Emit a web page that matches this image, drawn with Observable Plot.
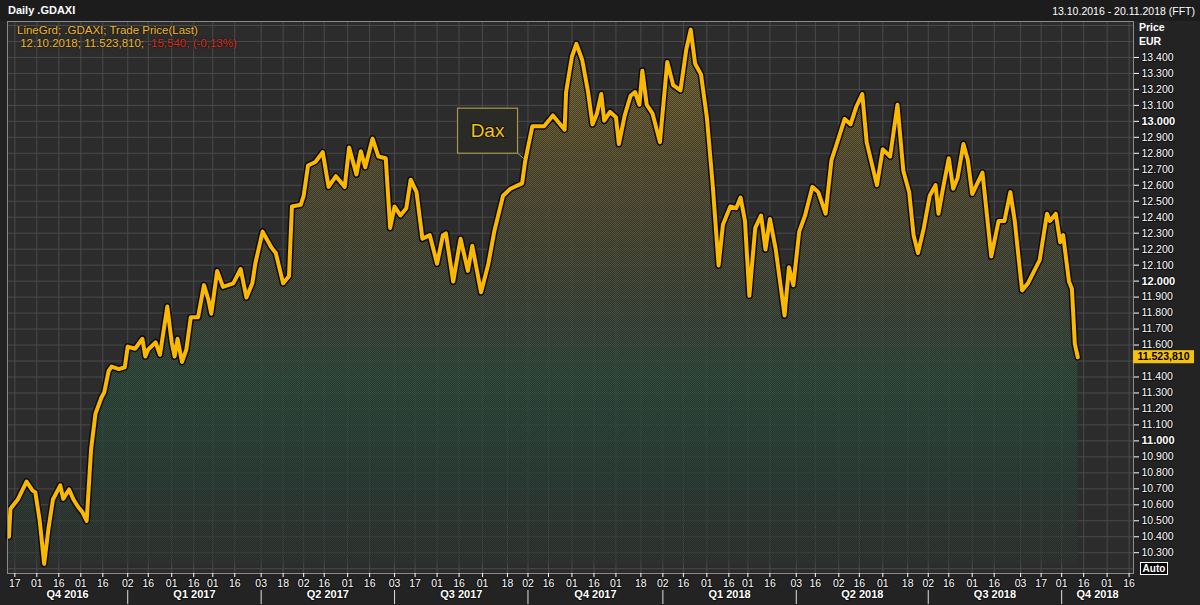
<!DOCTYPE html>
<html><head><meta charset="utf-8">
<script src="https://cdn.jsdelivr.net/npm/d3@7"></script>
<script src="https://cdn.jsdelivr.net/npm/@observablehq/plot@0.6"></script>
<style>
html,body{margin:0;padding:0;}
body{background:#232323;width:1200px;height:605px;overflow:hidden;position:relative;font-family:"Liberation Sans",Arial,sans-serif;color:#fff;}
#header{position:absolute;left:0;top:0;width:1200px;height:21px;background:#1c1c1c;}
#title{position:absolute;left:8px;top:4px;font-size:11px;font-weight:bold;}
#range{position:absolute;right:5px;top:5px;font-size:10.5px;}
#chart{position:absolute;left:0;top:21px;}
#legend{position:absolute;left:17px;top:24px;font-size:11.5px;line-height:13px;color:#f0b828;text-shadow:0 0 2px #000;}
#legend .neg{color:#dd2a1a;}
.unit{position:absolute;left:1139px;font-size:10.5px;font-weight:bold;}
#auto{position:absolute;left:1140px;top:562px;width:26px;height:11px;border:1px solid #fff;background:#000;font-size:10px;font-weight:bold;line-height:11px;text-align:center;}
#chart svg text{paint-order:stroke;stroke:#111;stroke-width:2px;stroke-linejoin:round;}
#chart svg text.nohalo{stroke:none;}
</style></head><body>
<div id="header"><span id="title">Daily .GDAXI</span><span id="range">13.10.2016 - 20.11.2018 (FFT)</span></div>
<div id="chart"></div>
<div id="legend">LineGrd; .GDAXI; Trade Price(Last)<br>&nbsp;12.10.2018; 11.523,810; <span class="neg">-15,540; (-0,13%)</span></div>
<div class="unit" style="top:21px">Price</div>
<div class="unit" style="top:35px">EUR</div>
<div id="auto">Auto</div>
<script>
const dates = [
"2016-10-13","2016-10-14","2016-10-19","2016-10-25","2016-10-29","2016-10-31","2016-11-03","2016-11-06","2016-11-09","2016-11-12",
"2016-11-17","2016-11-19","2016-11-23","2016-11-26","2016-11-29","2016-12-02","2016-12-05","2016-12-08","2016-12-11","2016-12-15",
"2016-12-17","2016-12-20","2016-12-22","2016-12-27","2016-12-31","2017-01-02","2017-01-07","2017-01-12","2017-01-14","2017-01-16",
"2017-01-21","2017-01-24","2017-01-29","2017-02-01","2017-02-03","2017-02-05","2017-02-08","2017-02-11","2017-02-14","2017-02-19",
"2017-02-23","2017-02-26","2017-02-28","2017-03-04","2017-03-08","2017-03-15","2017-03-20","2017-03-24","2017-03-28","2017-03-30",
"2017-04-04","2017-04-10","2017-04-13","2017-04-18","2017-04-22","2017-04-24","2017-04-30","2017-05-02","2017-05-05","2017-05-10",
"2017-05-15","2017-05-19","2017-05-24","2017-05-30","2017-06-02","2017-06-07","2017-06-10","2017-06-13","2017-06-18","2017-06-22",
"2017-06-27","2017-06-30","2017-07-03","2017-07-07","2017-07-11","2017-07-14","2017-07-18","2017-07-22","2017-07-27","2017-08-01",
"2017-08-05","2017-08-07","2017-08-12","2017-08-17","2017-08-22","2017-08-25","2017-08-31","2017-09-05","2017-09-09","2017-09-15",
"2017-09-20","2017-09-28","2017-09-30","2017-10-05","2017-10-13","2017-10-19","2017-10-27","2017-10-28","2017-11-01","2017-11-04",
"2017-11-08","2017-11-12","2017-11-15","2017-11-18","2017-11-21","2017-11-23","2017-11-27","2017-12-01","2017-12-03","2017-12-07",
"2017-12-11","2017-12-14","2017-12-17","2017-12-19","2017-12-22","2017-12-26","2017-12-31","2018-01-05","2018-01-09","2018-01-14",
"2018-01-18","2018-01-21","2018-01-24","2018-01-28","2018-02-01","2018-02-05","2018-02-09","2018-02-12","2018-02-17","2018-02-21",
"2018-02-24","2018-02-27","2018-03-02","2018-03-06","2018-03-10","2018-03-13","2018-03-16","2018-03-20","2018-03-26","2018-03-29",
"2018-04-01","2018-04-05","2018-04-09","2018-04-14","2018-04-18","2018-04-23","2018-04-27","2018-05-01","2018-05-06","2018-05-10",
"2018-05-14","2018-05-18","2018-05-21","2018-05-28","2018-06-01","2018-06-06","2018-06-11","2018-06-15","2018-06-19","2018-06-22",
"2018-06-25","2018-06-29","2018-07-03","2018-07-07","2018-07-09","2018-07-12","2018-07-16","2018-07-19","2018-07-22","2018-07-26",
"2018-07-29","2018-08-01","2018-08-08","2018-08-14","2018-08-19","2018-08-23","2018-08-27","2018-08-30","2018-09-04","2018-09-08",
"2018-09-16","2018-09-21","2018-09-23","2018-09-27","2018-09-30","2018-10-02","2018-10-06","2018-10-08","2018-10-10","2018-10-12"
];
const values = [
10400,10575,10633,10745,10690,10678,10499,10230,10454,10633,
10722,10637,10696,10633,10589,10555,10499,10946,11170,11270,
11304,11438,11465,11449,11461,11590,11577,11639,11528,11572,
11617,11539,11841,11617,11528,11639,11494,11572,11774,11774,
11975,11885,11796,12064,11964,11986,12076,11897,11986,12109,
12310,12210,12176,11986,12031,12467,12478,12534,12724,12746,
12807,12590,12657,12590,12836,12668,12813,12713,12892,12780,
12769,12333,12467,12411,12456,12635,12557,12265,12288,12109,
12288,12299,11997,12265,12064,12221,11930,12109,12310,12534,
12578,12612,12746,12970,12970,13037,12948,13183,13406,13485,
13384,13183,12981,13048,13171,13004,13059,13026,12858,13037,
13160,13183,13104,13317,13104,13048,12870,13372,13227,13194,
13451,13574,13361,13294,13026,12601,12098,12355,12467,12456,
12523,12377,11908,12333,12411,12198,12389,12198,11785,12087,
11975,12310,12411,12590,12557,12422,12758,12870,13015,12981,
13093,13171,12870,12601,12825,12780,13104,12691,12557,12288,
12176,12333,12534,12601,12422,12578,12769,12578,12646,12858,
12758,12545,12679,12154,12377,12377,12557,12377,11942,11986,
12131,12422,12377,12422,12243,12288,11997,11952,11606,11523.81
];
const xTicks = ["2016-10-17","2016-11-01","2016-11-16","2016-12-01","2016-12-16","2017-01-02","2017-01-16","2017-02-01","2017-02-16","2017-03-01","2017-03-16","2017-04-03","2017-04-18","2017-05-02","2017-05-16","2017-06-01","2017-06-16","2017-07-03","2017-07-17","2017-08-01","2017-08-16","2017-09-01","2017-09-18","2017-10-02","2017-10-16","2017-11-01","2017-11-16","2017-12-01","2017-12-18","2018-01-02","2018-01-16","2018-02-01","2018-02-16","2018-03-01","2018-03-16","2018-04-03","2018-04-16","2018-05-02","2018-05-16","2018-06-01","2018-06-18","2018-07-02","2018-07-16","2018-08-01","2018-08-16","2018-09-03","2018-09-17","2018-10-01","2018-10-16","2018-11-01","2018-11-16"];
const quarterLabels = ["Q4 2016","Q1 2017","Q2 2017","Q3 2017","Q4 2017","Q1 2018","Q2 2018","Q3 2018","Q4 2018"];
const quarterStarts = ["2017-01-02","2017-04-03","2017-07-03","2017-10-02","2018-01-02","2018-04-03","2018-07-02","2018-10-01"];
const yTicks = [10300,10400,10500,10600,10700,10800,10900,11000,11100,11200,11300,11400,11500,11600,11700,11800,11900,12000,12100,12200,12300,12400,12500,12600,12700,12800,12900,13000,13100,13200,13300,13400];
const yTicksBold = [11000,12000,13000];
const yGrid = [10200,10300,10400,10500,10600,10700,10800,10900,11000,11100,11200,11300,11400,11500,11600,11700,11800,11900,12000,12100,12200,12300,12400,12500,12600,12700,12800,12900,13000,13100,13200,13300,13400,13500,13600];
const xDomainDates = ["2016-10-12","2018-11-19"];
const yDomain = [10170, 13625];
const annotation = {label: "Dax", date: "2017-09-30", value: 12760};

const parse = d3.utcParse("%Y-%m-%d");
const de = d3.formatLocale({decimal: ",", thousands: ".", grouping: [3], currency: ["", " €"]});
const fmtTick = de.format(",");
const fmtLast = de.format(",.3f");
const data = dates.map((d, i) => ({date: parse(d), value: values[i]}));
const xDomain = xDomainDates.map(parse);
const baseline = d3.min(values);
const lastValue = values[values.length - 1];
const qBounds = [xDomain[0], ...quarterStarts.map(parse), xDomain[1]];
const qMid = quarterLabels.map((q, i) => new Date((+qBounds[i] + +qBounds[i + 1]) / 2));
// the tick label hidden under the last-price box in the original is left blank
const hiddenTick = Math.round(lastValue / 100) * 100;
const fmtAxis = t => t === hiddenTick ? "" : fmtTick(t);

function defsMark() {
  const defs = d3.create("svg:defs");
  const g = defs.append("linearGradient").attr("id", "daxFill").attr("x1", 0).attr("y1", 0).attr("x2", 0).attr("y2", 1);
  [[0, "#9c8234", 0.85], [0.25, "#6f6236", 0.8], [0.5, "#4c5640", 0.75], [0.68, "#2f5a46", 0.75], [0.85, "#2a4e40", 0.6], [1, "#3a4a40", 0.35]]
    .forEach(([o, c, a]) => g.append("stop").attr("offset", o).attr("stop-color", c).attr("stop-opacity", a));
  const p = defs.append("pattern").attr("id", "daxDots").attr("width", 2).attr("height", 2).attr("patternUnits", "userSpaceOnUse");
  p.append("rect").attr("x", 0).attr("y", 0).attr("width", 1).attr("height", 1).attr("fill", "#222");
  p.append("rect").attr("x", 1).attr("y", 1).attr("width", 1).attr("height", 1).attr("fill", "#222");
  return defs.node();
}

function daxNote(index, scales) {
  const ax = scales.x(parse(annotation.date)), ay = scales.y(annotation.value);
  const bw = 60, bh = 45, bx = ax - 67, by = ay - 51;
  const g = d3.create("svg:g");
  g.append("line").attr("x1", bx + bw).attr("y1", by + bh).attr("x2", ax).attr("y2", ay).attr("stroke", "#a8984c").attr("stroke-width", 1);
  g.append("rect").attr("x", bx).attr("y", by).attr("width", bw).attr("height", bh).attr("fill", "#2a2a27").attr("stroke", "#a8984c").attr("stroke-width", 1.2);
  g.append("text").attr("x", bx + bw / 2).attr("y", by + bh / 2).attr("dy", "0.35em").attr("text-anchor", "middle")
    .attr("font-size", 19).attr("fill", "#f4c21a").text(annotation.label);
  return g.node();
}

function lastLabel(index, scales, values, dims) {
  const y = scales.y(lastValue), x0 = dims.width - dims.marginRight;
  const g = d3.create("svg:g");
  g.append("rect").attr("x", x0).attr("y", y - 6.5).attr("width", 61).attr("height", 13).attr("fill", "#f6c20c");
  g.append("text").attr("class", "nohalo").attr("x", x0 + 30.5).attr("y", y).attr("dy", "0.36em").attr("text-anchor", "middle")
    .attr("font-size", 10.5).attr("font-weight", "bold").attr("fill", "#000").text(fmtLast(lastValue));
  return g.node();
}

const chart = Plot.plot({
  width: 1200, height: 584,
  marginLeft: 7, marginRight: 67, marginTop: 0, marginBottom: 32,
  style: {background: "transparent", color: "#ffffff", fontFamily: "'Liberation Sans', Arial, sans-serif", fontSize: "10.5px", overflow: "visible"},
  x: {type: "utc", domain: xDomain, axis: null, label: null},
  y: {domain: yDomain, axis: null, label: null},
  marks: [
    defsMark,
    Plot.frame({fill: "#2c2c2c"}),
    Plot.gridY(yGrid, {stroke: "#4a4a4a", strokeOpacity: 1}),
    Plot.gridX(xTicks.map(parse), {stroke: "#4a4a4a", strokeOpacity: 1}),
    Plot.areaY(data, {x: "date", y1: baseline, y2: "value", fill: "url(#daxFill)"}),
    Plot.areaY(data, {x: "date", y1: baseline, y2: "value", fill: "url(#daxDots)", fillOpacity: 0.55}),
    Plot.lineY(data, {x: "date", y: "value", stroke: "#0c0c0c", strokeWidth: 7, strokeLinejoin: "round"}),
    Plot.lineY(data, {x: "date", y: "value", stroke: "#fbb800", strokeWidth: 4, strokeLinejoin: "round"}),
    Plot.frame({stroke: "#8a8a8a"}),
    Plot.axisY(yTicks.filter(t => !yTicksBold.includes(t)), {anchor: "right", label: null, tickSize: 5, tickPadding: 3, tickFormat: fmtAxis}),
    Plot.axisY(yTicksBold, {anchor: "right", label: null, tickSize: 5, tickPadding: 3, tickFormat: fmtTick, fontWeight: "bold", fontSize: 11}),
    Plot.axisX(xTicks.map(parse), {anchor: "bottom", label: null, tickSize: 4, tickPadding: 2, tickFormat: d3.utcFormat("%d")}),
    Plot.text(quarterLabels, {x: (d, i) => qMid[i], frameAnchor: "bottom", dy: 24, text: d => d, fontWeight: "bold", fontSize: 11}),
    Plot.ruleX(quarterStarts.map(parse), {x: d => d, insetTop: 569, insetBottom: -31, stroke: "#e0e0e0"}),
    daxNote,
    lastLabel
  ]
});
document.getElementById("chart").appendChild(chart);
</script>
</body></html>
